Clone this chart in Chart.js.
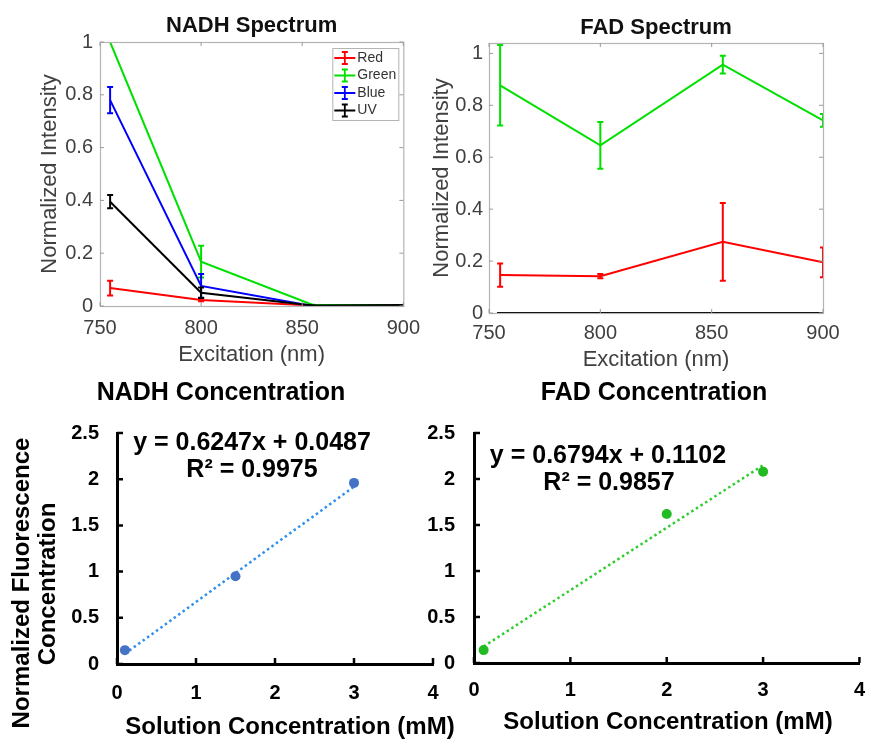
<!DOCTYPE html>
<html><head><meta charset="utf-8">
<script src="https://cdn.jsdelivr.net/npm/chart.js@4.4.1/dist/chart.umd.min.js"></script>
<style>
html,body{margin:0;padding:0;background:#fff}
body{width:870px;height:740px;position:relative;overflow:hidden}
canvas{position:absolute}
</style></head><body>
<canvas id="c1" width="430" height="380" style="left:0;top:0"></canvas>
<canvas id="c2" width="440" height="380" style="left:430px;top:0"></canvas>
<canvas id="c3" width="470" height="370" style="left:0;top:370px"></canvas>
<canvas id="c4" width="460" height="370" style="left:420px;top:370px"></canvas>
<script>
// ---------- data ----------
const excitation = [755, 800, 855, 900];
const spectrumTicksX = [750, 800, 850, 900];
const spectrumTicksY = [0, 0.2, 0.4, 0.6, 0.8, 1];
const seriesNames = ['Red', 'Green', 'Blue', 'UV'];

const nadhRed = [0.068, 0.023, 0.002, 0.002];
const nadhRedErr = [0.028, 0.005, 0, 0];
const nadhGreen = [1.0, 0.168, 0.005, 0.003];
const nadhGreenErr = [0, 0.06, 0, 0];
const nadhBlue = [0.78, 0.076, 0, 0];
const nadhBlueErr = [0.05, 0.045, 0, 0];
const nadhUV = [0.395, 0.05, 0.002, 0.004];
const nadhUVErr = [0.025, 0.02, 0, 0];

const fadRed = [0.146, 0.142, 0.274, 0.195];
const fadRedErr = [0.045, 0.008, 0.15, 0.057];
const fadGreen = [0.877, 0.646, 0.957, 0.742];
const fadGreenErr = [0.155, 0.09, 0.034, 0.025];
const fadBlue = [0, 0, 0, 0];
const fadBlueErr = [0, 0, 0, 0];
const fadUV = [0, 0, 0, 0];
const fadUVErr = [0, 0, 0, 0];

const concTicksX = [0, 1, 2, 3, 4];
const concTicksY = [0, 0.5, 1, 1.5, 2, 2.5];
const nadhConcX = [0.1, 1.5, 3];
const nadhConcY = [0.15, 0.95, 1.96];
const nadhTrendX = [0.1, 3];
const nadhTrendY = [0.11, 1.92];
const fadConcX = [0.1, 2, 3];
const fadConcY = [0.14, 1.62, 2.08];
const fadTrendX = [0.1, 3];
const fadTrendY = [0.18, 2.15];

// ---------- helpers ----------
const FONT = '"Liberation Sans", Arial, Helvetica, sans-serif';
Chart.defaults.font.family = FONT;
const GRAY = '#404040';
const pts = (xs, ys) => xs.map((x, i) => ({x: x, y: ys[i]}));
const setTicks = arr => s => { s.ticks = arr.map(v => ({value: v})); };

const decor = {
  id: 'decor',
  afterDatasetDraw(chart, args, opts) {
    const ds = chart.data.datasets[args.index];
    if (!ds.errors) return;
    const meta = args.meta;
    const xs = chart.scales[meta.xAxisID], ys = chart.scales[meta.yAxisID];
    const ctx = chart.ctx, a = chart.chartArea;
    ctx.save();
    ctx.beginPath(); ctx.rect(a.left, a.top, a.right - a.left, a.bottom - a.top + 1); ctx.clip();
    ctx.strokeStyle = ds.borderColor; ctx.lineWidth = 2;
    const cap = 3;
    ds.data.forEach((p, i) => {
      const e = ds.errors[i];
      const x = xs.getPixelForValue(p.x);
      const y1 = ys.getPixelForValue(p.y - e), y2 = ys.getPixelForValue(p.y + e);
      ctx.beginPath();
      ctx.moveTo(x, y1); ctx.lineTo(x, y2);
      ctx.moveTo(x - cap, y1); ctx.lineTo(x + cap, y1);
      ctx.moveTo(x - cap, y2); ctx.lineTo(x + cap, y2);
      ctx.stroke();
    });
    ctx.restore();
  },
  afterDraw(chart, args, opts) {
    const ctx = chart.ctx, a = chart.chartArea;
    ctx.save();
    if (opts.box) {
      ctx.strokeStyle = opts.box; ctx.lineWidth = 1.2;
      ctx.strokeRect(a.left + 0.5, a.top + 0.5, a.right - a.left, a.bottom - a.top);
    }
    if (opts.ticks) {
      const t = opts.ticks;
      const xs = chart.scales.x, ys = chart.scales.y;
      ctx.strokeStyle = t.color; ctx.lineWidth = t.width;
      ctx.beginPath();
      xs.ticks.forEach(k => {
        const x = xs.getPixelForValue(k.value);
        ctx.moveTo(x, a.bottom); ctx.lineTo(x, a.bottom - t.len);
        if (t.mirror) { ctx.moveTo(x, a.top); ctx.lineTo(x, a.top + t.len); }
      });
      ys.ticks.forEach(k => {
        const y = ys.getPixelForValue(k.value);
        ctx.moveTo(a.left, y); ctx.lineTo(a.left + t.len, y);
        if (t.mirror) { ctx.moveTo(a.right, y); ctx.lineTo(a.right - t.len, y); }
      });
      ctx.stroke();
    }
    if (opts.legend) {
      const L = opts.legend;
      const bx = a.right - L.dx, by = a.top + L.dy;
      ctx.fillStyle = '#fff'; ctx.fillRect(bx, by, L.w, L.h);
      ctx.strokeStyle = L.border; ctx.lineWidth = 1;
      ctx.strokeRect(bx + 0.5, by + 0.5, L.w, L.h);
      ctx.font = L.font; ctx.textAlign = 'left'; ctx.textBaseline = 'middle';
      chart.data.datasets.forEach((d, i) => {
        const y = by + L.first + i * L.step;
        const x0 = bx + L.pad, x1 = x0 + L.line, xm = (x0 + x1) / 2;
        ctx.strokeStyle = d.borderColor; ctx.lineWidth = 1.8;
        ctx.beginPath();
        ctx.moveTo(x0, y); ctx.lineTo(x1, y);
        ctx.moveTo(xm, y - 6); ctx.lineTo(xm, y + 6);
        ctx.moveTo(xm - 3, y - 6); ctx.lineTo(xm + 3, y - 6);
        ctx.moveTo(xm - 3, y + 6); ctx.lineTo(xm + 3, y + 6);
        ctx.stroke();
        ctx.fillStyle = L.color; ctx.fillText(d.label, x1 + 2, y);
      });
    }
    (opts.texts || []).forEach(tx => {
      ctx.save();
      ctx.font = tx.font; ctx.fillStyle = tx.color || '#000';
      ctx.textAlign = 'center'; ctx.textBaseline = 'middle';
      const x = tx.x === undefined ? (a.left + a.right) / 2 : tx.x;
      ctx.translate(x, tx.y);
      if (tx.rotate) ctx.rotate(tx.rotate);
      ctx.fillText(tx.text, 0, 0);
      ctx.restore();
    });
    ctx.restore();
  }
};

function lineDs(label, ys, errs, color, order) {
  return {label: label, data: pts(excitation, ys), errors: errs, borderColor: color,
    backgroundColor: color, borderWidth: 2, pointRadius: 0, tension: 0, order: order};
}

function spectrum(id, datasets, g, title, legend) {
  new Chart(document.getElementById(id), {
    type: 'line',
    data: {datasets: datasets},
    plugins: [decor],
    options: {
      responsive: false, animation: false,
      layout: {padding: {top: g.top, right: g.right, left: 0, bottom: 0}},
      plugins: {
        legend: {display: false}, tooltip: {enabled: false},
        decor: {
          box: '#b4b4b4',
          ticks: {color: '#9a9a9a', width: 1, len: 4, mirror: true},
          legend: legend,
          texts: [{text: title, y: g.titleY, font: 'bold 22px ' + FONT, color: '#111'}]
        }
      },
      scales: {
        x: {type: 'linear', min: 750, max: 900,
          afterBuildTicks: setTicks(spectrumTicksX),
          afterFit: s => { s.height = g.xh; },
          grid: {display: false, drawTicks: false}, border: {display: false},
          ticks: {font: {size: 20}, color: GRAY, padding: g.xpad, callback: v => String(v), maxRotation: 0},
          title: {display: true, text: 'Excitation (nm)', font: {size: 22}, color: GRAY, padding: {top: 0, bottom: g.xtb}}},
        y: {type: 'linear', min: 0, max: g.ymax,
          afterBuildTicks: setTicks(spectrumTicksY),
          afterFit: s => { s.width = g.yw; },
          grid: {display: false, drawTicks: false}, border: {display: false},
          ticks: {font: {size: 20}, color: GRAY, padding: g.ypad, callback: v => String(v)},
          title: {display: true, text: 'Normalized Intensity', font: {size: 22}, color: GRAY, padding: {top: g.ytp, bottom: 0}}}
      }
    }
  });
}

spectrum('c1', [
  lineDs(seriesNames[0], nadhRed, nadhRedErr, '#ff0000', 4),
  lineDs(seriesNames[1], nadhGreen, nadhGreenErr, '#00e000', 3),
  lineDs(seriesNames[2], nadhBlue, nadhBlueErr, '#0000ff', 2),
  lineDs(seriesNames[3], nadhUV, nadhUVErr, '#000000', 1)
], {top: 42, right: 25, xh: 74, xpad: 10, xtb: 11.8, yw: 100, ypad: 7, ytp: 36.8, ymax: 1, titleY: 26},
 'NADH Spectrum',
 {dx: 71, dy: 6, w: 66, h: 72, first: 10, step: 17.5, pad: 2, line: 21, font: '14px ' + FONT, color: '#333', border: '#b4b4b4'});

spectrum('c2', [
  lineDs(seriesNames[0], fadRed, fadRedErr, '#ff0000', 4),
  lineDs(seriesNames[1], fadGreen, fadGreenErr, '#00e000', 3),
  lineDs(seriesNames[2], fadBlue, fadBlueErr, '#0000ff', 2),
  lineDs(seriesNames[3], fadUV, fadUVErr, '#000000', 1)
], {top: 43, right: 47, xh: 67, xpad: 8, xtb: 6.8, yw: 59, ypad: 6, ytp: -1.2, ymax: 1.04, titleY: 28},
 'FAD Spectrum', null);

function conc(id, px, py, tx, ty, ptColor, trendColor, g, texts) {
  new Chart(document.getElementById(id), {
    type: 'scatter',
    data: {datasets: [
      {label: 'data', data: pts(px, py), pointRadius: 5, pointBackgroundColor: ptColor,
       pointBorderColor: ptColor, borderWidth: 0},
      {label: 'trend', data: pts(tx, ty), showLine: true, pointRadius: 0, borderColor: trendColor,
       borderWidth: 2.5, borderDash: [2.5, 3]}
    ]},
    plugins: [decor],
    options: {
      responsive: false, animation: false,
      layout: {padding: {top: g.top, right: g.right, left: 0, bottom: 0}},
      plugins: {
        legend: {display: false}, tooltip: {enabled: false},
        decor: {ticks: {color: '#000', width: 2.5, len: 6, mirror: false}, texts: texts}
      },
      scales: {
        x: {type: 'linear', min: 0, max: 4,
          afterBuildTicks: setTicks(concTicksX),
          afterFit: s => { s.height = g.xh; },
          grid: {display: false, drawTicks: false}, border: {display: true, color: '#000', width: 3},
          ticks: {font: {size: 20, weight: 'bold'}, color: '#000', padding: g.xpad, callback: v => String(v), maxRotation: 0}},
        y: {type: 'linear', min: 0, max: 2.5,
          afterBuildTicks: setTicks(concTicksY),
          afterFit: s => { s.width = g.yw; },
          grid: {display: false, drawTicks: false}, border: {display: true, color: '#000', width: 3},
          ticks: {font: {size: 20, weight: 'bold'}, color: '#000', padding: g.ypad, callback: v => String(v)}}
      }
    }
  });
}

const B24 = 'bold 24px ' + FONT;
const B25 = 'bold 25px ' + FONT;
conc('c3', nadhConcX, nadhConcY, nadhTrendX, nadhTrendY, '#4472c4', '#2e90ee',
  {top: 63, right: 37, xh: 76, xpad: 17, yw: 117, ypad: 18},
  [
    {text: 'NADH Concentration', x: 221, y: 23, font: B25},
    {text: 'y = 0.6247x + 0.0487', x: 252, y: 73, font: B25},
    {text: 'R\u00b2 = 0.9975', x: 252, y: 100, font: B25},
    {text: 'Solution Concentration (mM)', x: 290, y: 357, font: B24},
    {text: 'Normalized Fluorescence', x: 22, y: 213, font: B24, rotate: -Math.PI / 2},
    {text: 'Concentration', x: 48, y: 214, font: B24, rotate: -Math.PI / 2}
  ]);

conc('c4', fadConcX, fadConcY, fadTrendX, fadTrendY, '#22bb22', '#2ecc2e',
  {top: 63, right: 15, xh: 77, xpad: 15, yw: 54, ypad: 19},
  [
    {text: 'FAD Concentration', x: 234, y: 23, font: B25},
    {text: 'y = 0.6794x + 0.1102', x: 188, y: 86, font: B25},
    {text: 'R\u00b2 = 0.9857', x: 189, y: 113, font: B25},
    {text: 'Solution Concentration (mM)', x: 248, y: 352, font: B24}
  ]);
</script>
</body></html>
